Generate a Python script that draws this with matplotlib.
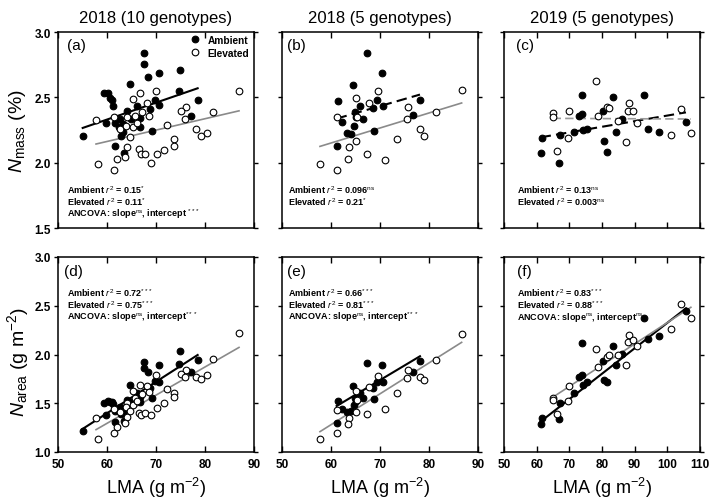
import matplotlib
matplotlib.use("Agg")
import matplotlib.pyplot as plt
import numpy as np

plt.rcParams['font.family'] = ['Liberation Sans', 'DejaVu Sans']
plt.rcParams['mathtext.fontset'] = 'custom'
plt.rcParams['mathtext.rm'] = 'Liberation Sans'
plt.rcParams['mathtext.it'] = 'Liberation Sans:italic'
plt.rcParams['mathtext.bf'] = 'Liberation Sans:bold'

# ---------------- data ----------------
titles = ["2018 (10 genotypes)", "2018 (5 genotypes)", "2019 (5 genotypes)"]
panel_labels = ["(a)", "(b)", "(c)", "(d)", "(e)", "(f)"]

# 2018, 10 genotypes
lma_a_amb = [67.62, 67.55, 70.68, 74.97, 68.44, 64.76, 74.63, 59.46, 60.27, 60.61, 60.95, 61.29,
             69.87, 66.06, 70.55, 78.5, 64.02, 68.78, 66.74, 64.9, 62.65, 61.63, 59.73, 55.04,
             62.38, 63.34, 66.74, 69.12, 62.79, 63.2, 77.14, 61.63, 63.54]
nmass_a_amb = [2.837, 2.755, 2.684, 2.712, 2.653, 2.602, 2.546, 2.531, 2.531, 2.495, 2.480, 2.436,
               2.480, 2.431, 2.441, 2.480, 2.398, 2.411, 2.339, 2.334, 2.334, 2.301, 2.304, 2.207,
               2.270, 2.296, 2.270, 2.245, 2.207, 2.232, 2.360, 2.125, 2.074]
narea_a_amb = [1.918, 1.861, 1.897, 2.033, 1.816, 1.685, 1.900, 1.505, 1.525, 1.512, 1.512, 1.493,
               1.733, 1.606, 1.722, 1.947, 1.535, 1.658, 1.561, 1.515, 1.462, 1.418, 1.376, 1.215,
               1.416, 1.454, 1.515, 1.552, 1.386, 1.411, 1.820, 1.310, 1.318]
lma_a_elev = [86.94, 70.0, 66.74, 65.24, 68.1, 76.12, 75.17, 81.7, 75.92, 57.76, 61.43, 64.02,
              65.72, 67.08, 68.64, 63.88, 65.38, 62.65, 66.19, 72.18, 78.16, 79.19, 80.34, 64.7,
              73.67, 73.67, 71.7, 70.14, 66.46, 66.94, 67.76, 64.02, 63.68, 61.97, 68.98, 58.1, 61.43]
nmass_a_elev = [2.551, 2.551, 2.531, 2.487, 2.457, 2.423, 2.398, 2.385, 2.334, 2.329, 2.347, 2.347,
                2.360, 2.385, 2.360, 2.283, 2.270, 2.258, 2.304, 2.288, 2.258, 2.207, 2.227, 2.194,
                2.181, 2.125, 2.100, 2.066, 2.105, 2.066, 2.066, 2.117, 2.041, 2.028, 1.995, 1.990, 1.946]
narea_a_elev = [2.218, 1.786, 1.689, 1.622, 1.673, 1.844, 1.803, 1.949, 1.772, 1.345, 1.442, 1.503,
                1.551, 1.600, 1.620, 1.458, 1.484, 1.415, 1.525, 1.651, 1.765, 1.748, 1.789, 1.420,
                1.607, 1.566, 1.506, 1.449, 1.399, 1.383, 1.400, 1.355, 1.300, 1.257, 1.376, 1.130, 1.195]

# 2018, 5 genotypes
lma_b_amb = [67.28, 70.47, 64.42, 61.36, 69.45, 70.54, 65.85, 64.83, 68.64, 62.24, 65.1, 66.6,
             64.69, 63.2, 64.01, 68.84, 76.8, 78.16, 61.15]
nmass_b_amb = [2.839, 2.686, 2.597, 2.475, 2.480, 2.436, 2.431, 2.390, 2.416, 2.314, 2.347, 2.334,
               2.283, 2.227, 2.219, 2.245, 2.365, 2.480, 2.125]
narea_b_amb = [1.910, 1.893, 1.673, 1.519, 1.722, 1.718, 1.601, 1.549, 1.658, 1.440, 1.528, 1.554,
               1.477, 1.407, 1.420, 1.545, 1.816, 1.938, 1.299]
lma_b_elev = [86.66, 69.66, 65.17, 67.82, 75.78, 61.15, 65.37, 81.36, 75.58, 78.16, 78.98, 73.4,
              65.1, 63.74, 67.41, 63.54, 71.02, 57.75, 61.15]
nmass_b_elev = [2.556, 2.551, 2.492, 2.457, 2.429, 2.347, 2.347, 2.385, 2.334, 2.258, 2.207, 2.181,
                2.168, 2.117, 2.066, 2.028, 2.023, 1.990, 1.946]
narea_b_elev = [2.215, 1.777, 1.624, 1.666, 1.841, 1.435, 1.534, 1.940, 1.764, 1.765, 1.743, 1.601,
                1.411, 1.349, 1.393, 1.289, 1.437, 1.130, 1.190]

# 2019, 5 genotypes
lma_c_amb = [61.2, 61.7, 66.9, 67.1, 71.5, 74.0, 73.1, 73.8, 74.1, 75.3, 80.4, 83.3, 80.6, 81.4,
             84.3, 86.0, 92.9, 94.2, 97.5, 105.7]
nmass_c_amb = [2.074, 2.186, 1.995, 2.212, 2.232, 2.518, 2.360, 2.372, 2.250, 2.258, 2.398, 2.500,
               2.168, 2.084, 2.232, 2.334, 2.518, 2.258, 2.237, 2.314]
narea_c_amb = [1.285, 1.350, 1.335, 1.500, 1.610, 2.115, 1.770, 1.790, 1.690, 1.715, 1.935, 2.090,
               1.740, 1.720, 1.890, 2.005, 2.370, 2.160, 2.190, 2.450]
lma_c_elev = [78.2, 64.9, 65.1, 69.9, 69.7, 66.1, 78.9, 81.4, 82.2, 88.4, 88.1, 89.4, 85.0, 90.8,
              87.3, 101.1, 104.2, 107.2]
nmass_c_elev = [2.628, 2.380, 2.347, 2.393, 2.186, 2.092, 2.355, 2.423, 2.418, 2.457, 2.398, 2.398,
                2.321, 2.301, 2.156, 2.212, 2.411, 2.225]
narea_c_elev = [2.060, 1.550, 1.530, 1.680, 1.525, 1.390, 1.870, 1.970, 2.000, 2.200, 2.130, 2.145,
                2.000, 2.085, 1.890, 2.260, 2.520, 2.370]

# regression fits: [slope, intercept]
fit_nmass_amb = [[0.01294, 1.5535], [0.01082, 1.6755], [0.004292, 1.9313]]
fit_nmass_elev = [[0.008703, 1.640], [0.01149, 1.461], [-0.000118, 2.3467]]
fit_narea_amb = [[0.0323, -0.5405], [0.0300, -0.3627], [0.02611, -0.286]]
fit_narea_elev = [[0.0289, -0.440], [0.03168, -0.6208], [0.02182, 0.145]]
# significance of fit -> dashed line when not significant
sig_nmass_amb = [True, False, False]
sig_nmass_elev = [True, True, False]

stats_top = [
    ["Ambient $r^2$ = 0.15$^{*}$", "Elevated $r^2$ = 0.11$^{*}$",
     "ANCOVA: slope$^{\\rm ns}$, intercept $^{***}$"],
    ["Ambient $r^2$ = 0.096$^{\\rm ns}$", "Elevated $r^2$ = 0.21$^{*}$"],
    ["Ambient $r^2$ = 0.13$^{\\rm ns}$", "Elevated $r^2$ = 0.003$^{\\rm ns}$"],
]
stats_bot = [
    ["Ambient $r^2$ = 0.72$^{***}$", "Elevated $r^2$ = 0.75$^{***}$",
     "ANCOVA: slope$^{\\rm ns}$, intercept$^{***}$"],
    ["Ambient $r^2$ = 0.66$^{***}$", "Elevated $r^2$ = 0.81$^{***}$",
     "ANCOVA: slope$^{\\rm ns}$, intercept$^{***}$"],
    ["Ambient $r^2$ = 0.83$^{***}$", "Elevated $r^2$ = 0.88$^{***}$",
     "ANCOVA: slope$^{\\rm ns}$, intercept$^{\\rm ns}$"],
]

lma_amb = [lma_a_amb, lma_b_amb, lma_c_amb]
lma_elev = [lma_a_elev, lma_b_elev, lma_c_elev]
nmass_amb = [nmass_a_amb, nmass_b_amb, nmass_c_amb]
nmass_elev = [nmass_a_elev, nmass_b_elev, nmass_c_elev]
narea_amb = [narea_a_amb, narea_b_amb, narea_c_amb]
narea_elev = [narea_a_elev, narea_b_elev, narea_c_elev]
xlims = [(50, 90), (50, 90), (50, 110)]
xticks = [[50, 60, 70, 80, 90], [50, 60, 70, 80, 90], [50, 60, 70, 80, 90, 100, 110]]

# ---------------- figure ----------------
W, H = 709, 502
fig = plt.figure(figsize=(W / 100, H / 100), dpi=100)
lefts = [58, 282, 504]
aw = 196
rows = [(33, 229), (258, 453)]

GRAY = '#8a8a8a'
ms = 4.8
mew = 0.8
fs_stat = 6.5
line_gap = 12

def style(ax, xl, xt, yl, yt, show_xlab, show_ylab):
    ax.set_xlim(*xl)
    ax.set_ylim(*yl)
    ax.set_xticks(xt)
    ax.set_yticks(yt)
    for s in ax.spines.values():
        s.set_linewidth(1.1)
    ax.tick_params(axis='x', direction='in', length=4, width=1.0, top=True,
                   labelsize=8.5, pad=4, labelbottom=show_xlab)
    ax.tick_params(axis='y', direction='out', length=3, width=1.0,
                   labelsize=8.5, pad=2, labelleft=show_ylab)
    ax.tick_params(axis='y', which='both', right=True)
    for lab in ax.get_xticklabels() + ax.get_yticklabels():
        lab.set_fontweight('bold')

def fit_line(ax, xs, coef, color, lw, dashed):
    x0, x1 = min(xs), max(xs)
    xx = np.array([x0, x1])
    yy = coef[0] * xx + coef[1]
    ls = (0, (5, 2.5)) if dashed else '-'
    ax.plot(xx, yy, color=color, lw=lw, ls=ls, zorder=3)

for col in range(3):
    # top row: Nmass
    top, bot = rows[0]
    ah = bot - top
    ax = fig.add_axes([lefts[col] / W, 1 - bot / H, aw / W, ah / H])
    ax.plot(lma_amb[col], nmass_amb[col], 'o', ms=ms, mfc='black', mec='black', mew=mew,
            ls='none', zorder=4, label='Ambient')
    ax.plot(lma_elev[col], nmass_elev[col], 'o', ms=ms, mfc='white', mec='black', mew=mew,
            ls='none', zorder=5, label='Elevated')
    fit_line(ax, lma_amb[col], fit_nmass_amb[col], 'black', 1.5, not sig_nmass_amb[col])
    fit_line(ax, lma_elev[col], fit_nmass_elev[col],
             GRAY if sig_nmass_elev[col] else '#9a9a9a', 1.2, not sig_nmass_elev[col])
    style(ax, xlims[col], xticks[col], (1.5, 3.0), [1.5, 2.0, 2.5, 3.0], False, col == 0)
    ax.set_title(titles[col], fontsize=12, pad=7)
    lx = [0.045, 0.027, 0.062][col]
    ax.text(lx, 0.935, panel_labels[col], transform=ax.transAxes, fontsize=11,
            ha='left', va='center')
    sx = [0.046, 0.032, 0.066][col]
    for i, s in enumerate(stats_top[col]):
        ax.text(sx, (229 - 190 - i * line_gap) / ah, s, transform=ax.transAxes,
                fontsize=fs_stat, fontweight='bold', ha='left', va='center')
    if col == 0:
        ax.legend(loc='upper left', bbox_to_anchor=(0.675, 0.985), frameon=False,
                  handlelength=1.0, handletextpad=0.7, labelspacing=0.3,
                  borderpad=0, borderaxespad=0, prop={'weight': 'bold', 'size': 7.3})
        fig.text(18 / W, 1 - 131 / H, r'$\it{N}_{\rm mass}$ (%)', rotation=90,
                 fontsize=14, ha='center', va='center')

    # bottom row: Narea
    top, bot = rows[1]
    ah = bot - top
    ax = fig.add_axes([lefts[col] / W, 1 - bot / H, aw / W, ah / H])
    ax.plot(lma_amb[col], narea_amb[col], 'o', ms=ms, mfc='black', mec='black', mew=mew,
            ls='none', zorder=4)
    ax.plot(lma_elev[col], narea_elev[col], 'o', ms=ms, mfc='white', mec='black', mew=mew,
            ls='none', zorder=5)
    fit_line(ax, lma_amb[col], fit_narea_amb[col], 'black', 1.5, False)
    fit_line(ax, lma_elev[col], fit_narea_elev[col], GRAY, 1.2, False)
    style(ax, xlims[col], xticks[col], (1.0, 3.0), [1.0, 1.5, 2.0, 2.5, 3.0], True, col == 0)
    lx = [0.03, 0.026, 0.066][col]
    ax.text(lx, 0.93, panel_labels[col + 3], transform=ax.transAxes, fontsize=11,
            ha='left', va='center')
    sx = [0.046, 0.032, 0.065][col]
    for i, s in enumerate(stats_bot[col]):
        ax.text(sx, (453 - 293 - i * line_gap) / ah, s, transform=ax.transAxes,
                fontsize=fs_stat, fontweight='bold', ha='left', va='center')
    fig.text((lefts[col] + aw / 2) / W, 1 - 488 / H, r'LMA (g m$^{-2}$)', fontsize=13,
             ha='center', va='center')
    if col == 0:
        fig.text(18 / W, 1 - 362 / H, r'$\it{N}_{\rm area}$ (g m$^{-2}$)', rotation=90,
                 fontsize=14, ha='center', va='center')

fig.savefig('out.png', dpi=100)
